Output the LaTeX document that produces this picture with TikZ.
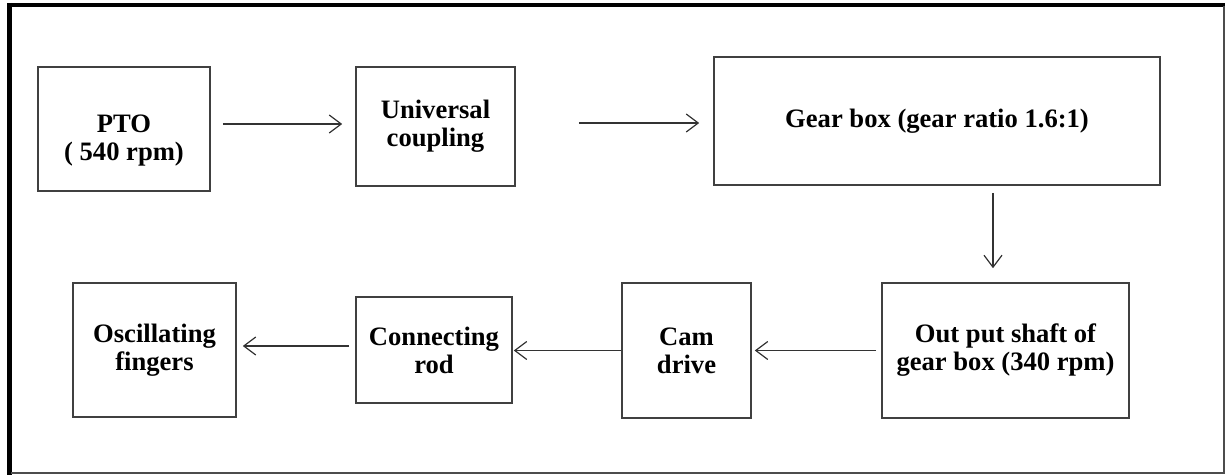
\documentclass[tikz,border=0pt]{standalone}
\usepackage{fontspec}
\setmainfont{Liberation Serif}
\usetikzlibrary{arrows.meta}

\tikzset{
  txt/.style={align=center, inner sep=2pt, font=\bfseries\fontsize{13.3}{14}\selectfont},
  block/.style={txt, draw=black!75, line width=0.8pt},
  flow/.style={-{Straight Barb[length=6pt,width=9pt]}, draw=black!80, line width=0.6pt},
}

\begin{document}
\begin{tikzpicture}[x=0.5pt, y=-0.5pt]
  \useasboundingbox (0,0) rectangle (1225,475);
  % frame
  \draw[line width=2pt] (7,5) -- (1225,5);
  \draw[line width=2.5pt] (9.5,3) -- (9.5,475);
  \draw[black!70, line width=0.8pt] (1224,6) -- (1224,473) -- (11,473);

  % top row
  \node[block, minimum width=86pt, minimum height=62pt,
        label={[txt, yshift=-6pt]center:PTO\\( 540 rpm)}] (pto) at (124,129) {};
  \node[block, minimum width=79.5pt, minimum height=59.5pt] (coupling) at (435.5,126.5) {Universal\\coupling};
  \node[block, minimum width=223pt, minimum height=64pt] (gearbox) at (937,121) {Gear box (gear ratio 1.6:1)};

  % bottom row
  \node[block, minimum width=123.5pt, minimum height=67.5pt] (shaft) at (1005.5,350.5) {Out put shaft of\\gear box (340 rpm)};
  \node[block, minimum width=64.5pt, minimum height=67.5pt] (cam) at (686.5,350.5) {Cam\\drive};
  \node[block, minimum width=78pt, minimum height=53pt] (rod) at (434,350) {Connecting\\rod};
  \node[block, minimum width=81.5pt, minimum height=67pt] (fingers) at (154.5,350) {Oscillating\\fingers};

  % arrows
  \draw[flow, shorten <=6pt, shorten >=6.5pt]
    ([yshift=2.5pt]pto.east) -- ([yshift=2.5pt]pto.east -| coupling.west);
  \draw[flow, shorten <=31.5pt, shorten >=7pt]
    ([yshift=1.75pt]coupling.east) -- ([yshift=1.75pt]coupling.east -| gearbox.west);
  \draw[flow, shorten <=3.5pt, shorten >=7pt]
    ([xshift=28pt]gearbox.south) -- ([xshift=28pt]gearbox.south |- shaft.north);
  \draw[flow, shorten <=2.5pt, shorten >=1.5pt] (shaft.west) -- (shaft.west -| cam.east);
  \draw[flow, shorten >=0.5pt] (cam.west) -- (cam.west -| rod.east);
  \draw[flow, shorten <=3pt, shorten >=3pt]
    ([yshift=2pt]rod.west) -- ([yshift=2pt]rod.west -| fingers.east);
\end{tikzpicture}
\end{document}
